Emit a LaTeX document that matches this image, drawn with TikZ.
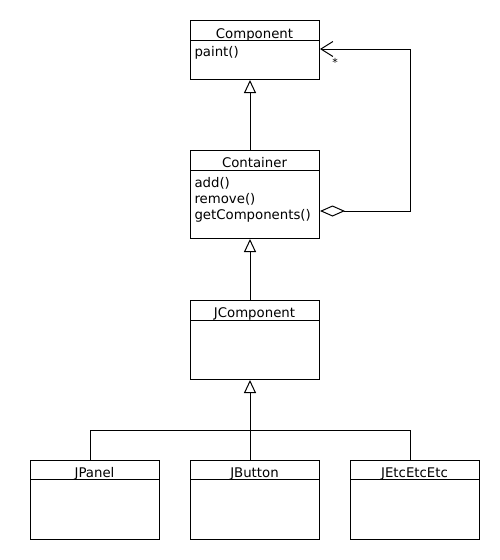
\documentclass[tikz,border=0pt]{standalone}
\usepackage{fontspec}
\setmainfont{DejaVu Sans}
\usetikzlibrary{arrows.meta}
\begin{document}
\begin{tikzpicture}[x=1pt,y=-1pt,line width=1pt,
  box/.style={draw,fill=white,inner sep=0pt,anchor=north west,minimum width=129pt},
  title/.style={font=\fontsize{13.3}{15}\selectfont,anchor=base,inner sep=0pt},
  op/.style={font=\fontsize{13.3}{15}\selectfont,anchor=base west,inner sep=0pt},
  gen/.style={-{Triangle[open,length=13pt,width=12pt]}},
  agg/.style={{Diamond[open,length=25pt,width=11pt]}-{Straight Barb[length=12pt,width=15pt,line width=1pt]}}]
\useasboundingbox (0,0) rectangle (500,560);
% Component
\node[box,minimum height=59pt] (comp) at (190,20) {};
\node[title] (compt) at (254.5,38) {Component};
\draw (190,40) -- (320,40);
\node[op] (paint) at (194,56) {paint()};
% Container
\node[box,minimum height=88pt] (cont) at (190,150) {};
\node[title] (contt) at (254.5,167) {Container};
\draw (190,170) -- (320,170);
\node[op] (add) at (194,187) {add()};
\node[op] (rem) at (194,203) {remove()};
\node[op] (getc) at (194,219) {getComponents()};
% JComponent
\node[box,minimum height=79pt] (jcomp) at (190,300) {};
\node[title] (jcompt) at (254.5,317) {JComponent};
\draw (190,320) -- (320,320);
% bottom classes
\node[box,minimum height=79pt] (jpanel) at (30,460) {};
\node[title] (jpanelt) at (94.5,477) {JPanel};
\draw (30,479) -- (160,479);
\node[box,minimum height=79pt] (jbutton) at (190,460) {};
\node[title] (jbuttont) at (254.5,477) {JButton};
\draw (190,479) -- (320,479);
\node[box,minimum height=79pt] (jetc) at (350,460) {};
\node[title] (jetct) at (414.5,477) {JEtcEtcEtc};
\draw (350,479) -- (480,479);
% generalizations
\coordinate (g1) at (250,79);
\draw[gen] (cont.north -| g1) -- (comp.south -| g1);
\draw[gen] (jcomp.north -| g1) -- (cont.south -| g1);
\coordinate (bar) at (250,430);
\draw[gen] (bar) -- (jcomp.south -| g1);
\draw (jpanel.north -| 90,0) |- (bar);
\draw (jetc.north -| 410,0) |- (bar);
\draw (jbutton.north -| bar) -- (bar);
% aggregation
\coordinate (cr) at (410,211);
\coordinate (ct) at (410,49);
\draw[agg] (cont.east |- cr) -- (cr) -- (ct) -- (comp.east |- ct);
\node[font=\fontsize{11}{12}\selectfont,inner sep=0pt] (star) at (335,62) {*};
\end{tikzpicture}
\end{document}
